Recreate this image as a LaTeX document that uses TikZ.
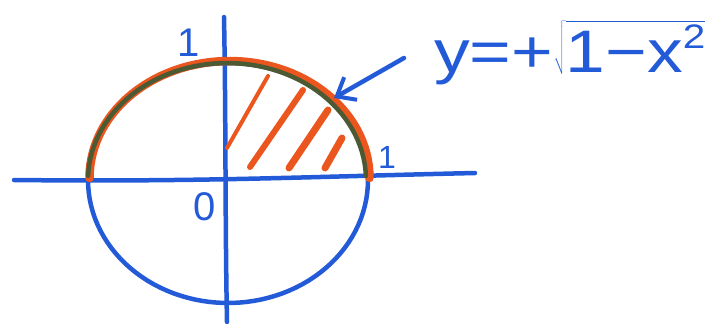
\documentclass[tikz,border=0pt]{standalone}
\usepackage{fontspec}
\setmainfont{Liberation Sans}
\usetikzlibrary{arrows.meta}
\definecolor{penblue}{RGB}{35,90,215}
\definecolor{penorange}{RGB}{235,85,30}
\definecolor{penolive}{RGB}{75,90,50}
\tikzset{
  bluepen/.style={draw=penblue, line width=4.5pt, line cap=round, line join=round},
  orangepen/.style={draw=penorange, line width=8.5pt, line cap=round},
  olivepen/.style={draw=penolive, line width=4.5pt, line cap=round},
  hatchpen/.style={draw=penorange, line width=6pt, line cap=round},
  lbl/.style={text=penblue, font=\fontsize{40}{40}\selectfont, inner sep=0pt},
}
\begin{document}
\begin{tikzpicture}[x=1pt,y=-1pt]
\useasboundingbox (0,0) rectangle (718,324);
% axes
\coordinate (xl) at (14,180);
\coordinate (xr) at (475,173);
\coordinate (yt) at (224,17);
\coordinate (yb) at (227,322);
\draw[bluepen] (xl) .. controls (200,182) and (300,177) .. (xr);
\draw[bluepen] (yt) .. controls (226,120) and (225,220) .. (yb);
% lower half of circle
\draw[bluepen] plot[domain=180:360, samples=60] ({228+140*cos(\x)}, {180-123*sin(\x)});
% upper half
\draw[bluepen] plot[domain=0:180, samples=60] ({228+140*cos(\x)}, {180-117*sin(\x)});
\draw[orangepen] plot[domain=0:180, samples=60] ({229.5+140*cos(\x)}, {178-117*sin(\x)});
\draw[olivepen] plot[domain=2:178, samples=60] ({227+139*cos(\x)}, {180-117*sin(\x)});
% hatching
\coordinate (h1a) at (227,148); \coordinate (h1b) at (268,76);
\coordinate (h2a) at (250,167); \coordinate (h2b) at (303,90);
\coordinate (h3a) at (289,168); \coordinate (h3b) at (328,110);
\coordinate (h4a) at (325,168); \coordinate (h4b) at (342,138);
\draw[hatchpen, line width=4pt] (h1a) -- (h1b);
\draw[hatchpen, line width=6pt] (h2a) -- (h2b);
\draw[hatchpen, line width=7pt] (h3a) -- (h3b);
\draw[hatchpen, line width=7pt] (h4a) -- (h4b);
% labels
\node[lbl] (one-y) at (189,43) {1};
\node[lbl, font=\fontsize{32}{32}\selectfont] (one-x) at (387,157) {1};
\node[lbl] (zero) at (205,207) {0};
% formula and arrow
\node[lbl, anchor=base west, font=\fontsize{60}{60}\selectfont] (formula) at (434,72)
  {\scalebox{1.19}[1]{y=+$\sqrt{\mbox{1−x\raisebox{0.4em}{\fontsize{34}{34}\selectfont 2}}}$}};
\coordinate (arrowtail) at (404,58);
\coordinate (arrowtip) at (334,98);
\draw[bluepen, -{Straight Barb[length=16pt,width=26pt,line width=4pt]}] (arrowtail) -- (arrowtip);
\end{tikzpicture}
\end{document}
